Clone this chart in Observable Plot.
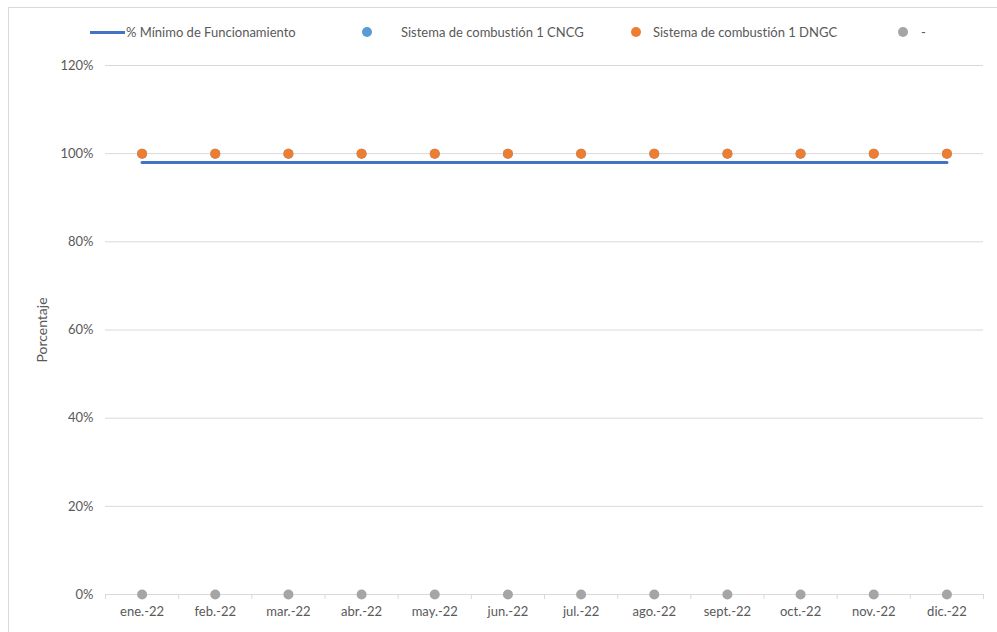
<!DOCTYPE html>
<html>
<head>
<meta charset="utf-8">
<script src="https://cdn.jsdelivr.net/npm/d3@7"></script>
<script src="https://cdn.jsdelivr.net/npm/@observablehq/plot@0.6"></script>
<style>
  html, body { margin: 0; padding: 0; background: #fff; overflow: hidden; }
  body { width: 997px; height: 632px; position: relative; font-family: Lato, "Open Sans", sans-serif; font-variant-ligatures: none; }
  svg text { font-variant-ligatures: none; }
  #frame { position: absolute; left: 8px; top: 7px; width: 1200px; height: 900px; border: 1px solid #d9d9d9; pointer-events: none; }
  #chart { position: absolute; left: 0; top: 0; }
  .leg { position: absolute; top: 24px; font-size: 13px; color: #595959; white-space: nowrap; line-height: 16px; }
  .sw-line { position: absolute; width: 35px; height: 3px; background: #4472C4; top: 7px; }
  .sw-dot { position: absolute; width: 10px; height: 10px; border-radius: 50%; top: 3px; }
</style>
</head>
<body>
<div id="chart"></div>
<div id="frame"></div>
<div id="legend"></div>
<script>
const months = ["ene.-22","feb.-22","mar.-22","abr.-22","may.-22","jun.-22","jul.-22","ago.-22","sept.-22","oct.-22","nov.-22","dic.-22"];
const minimo = [98,98,98,98,98,98,98,98,98,98,98,98];
const cncg = [100,100,100,100,100,100,100,100,100,100,100,100];
const dngc = [100,100,100,100,100,100,100,100,100,100,100,100];
const guion = [0,0,0,0,0,0,0,0,0,0,0,0];
const yTicks = [0,20,40,60,80,100,120];
const seriesNames = ["% Mínimo de Funcionamiento","Sistema de combustión 1 CNCG","Sistema de combustión 1 DNGC","-"];
const colors = ["#4472C4","#5B9BD5","#ED7D31","#A5A5A5"];

const idx = months.map((m, i) => i);
const boundaries = d3.range(-0.5, months.length, 1);
const rows = (vals) => vals.map((v, i) => ({i, v}));

const plot = Plot.plot({
  width: 997,
  height: 632,
  marginLeft: 105,
  marginRight: 14,
  marginTop: 65,
  marginBottom: 38,
  style: {fontFamily: "Lato, 'Open Sans', sans-serif", fontSize: "13px", color: "#595959", background: "transparent"},
  x: {type: "linear", domain: [-0.5, months.length - 0.5]},
  y: {domain: [0, 120]},
  marks: [
    Plot.ruleY(yTicks, {stroke: "#d9d9d9", strokeWidth: 1}),
    Plot.axisX(boundaries, {tickSize: 5, tickFormat: () => "", stroke: "#d9d9d9", label: null}),
    Plot.axisX(idx, {tickSize: 0, tickPadding: 12, tickFormat: i => months[i], label: null, fill: "#595959"}),
    Plot.axisY(yTicks, {tickSize: 0, tickPadding: 12, tickFormat: d => d + "%", label: null, fill: "#595959"}),
    Plot.text(["Porcentaje"], {frameAnchor: "left", textAnchor: "middle", text: d => d, rotate: -90, dx: -63, fill: "#595959", fontSize: 14}),
    Plot.line(rows(minimo), {x: "i", y: "v", stroke: colors[0], strokeWidth: 3}),
    Plot.dot(rows(cncg), {x: "i", y: "v", r: 5, fill: colors[1]}),
    Plot.dot(rows(dngc), {x: "i", y: "v", r: 5, fill: colors[2]}),
    Plot.dot(rows(guion), {x: "i", y: "v", r: 5, fill: colors[3]})
  ]
});
document.getElementById("chart").appendChild(plot);

const legendItems = [
  {name: seriesNames[0], color: colors[0], kind: "line", sw: 90, tx: 126},
  {name: seriesNames[1], color: colors[1], kind: "dot", sw: 362, tx: 401},
  {name: seriesNames[2], color: colors[2], kind: "dot", sw: 631, tx: 653},
  {name: seriesNames[3], color: colors[3], kind: "dot", sw: 898, tx: 921}
];
const leg = document.getElementById("legend");
legendItems.forEach(it => {
  const s = document.createElement("div");
  s.className = "leg";
  s.style.left = it.sw + "px";
  const sw = document.createElement("div");
  sw.className = it.kind === "line" ? "sw-line" : "sw-dot";
  sw.style.left = "0px";
  sw.style.background = it.color;
  s.appendChild(sw);
  leg.appendChild(s);
  const t = document.createElement("div");
  t.className = "leg";
  t.style.left = it.tx + "px";
  t.textContent = it.name;
  leg.appendChild(t);
});
</script>
</body>
</html>
